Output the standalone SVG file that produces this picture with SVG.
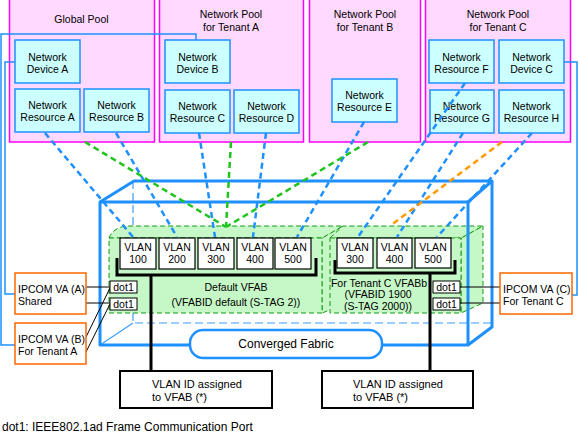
<svg xmlns="http://www.w3.org/2000/svg" width="579" height="433" viewBox="0 0 579 433">
<style>
text{font-family:"Liberation Sans",Arial,sans-serif;font-size:10.5px;fill:#000}
.c{text-anchor:middle}
.pool{fill:#ffd9ff;stroke:#ff00ff;stroke-width:1.5}
.node{fill:#ccffff;stroke:#1e90ff;stroke-width:1.5}
.ip{fill:#fff;stroke:#ff6600;stroke-width:1.5}
.vlan{fill:#fff;stroke:#000;stroke-width:1.2}
.dot{fill:#fff;stroke:#000;stroke-width:1}
.vf{fill:#c6f7c6;stroke:#159a15;stroke-width:1;stroke-dasharray:5,3}
.fab{fill:none;stroke:#1e90ff;stroke-width:3;stroke-linejoin:round}
.hid{fill:none;stroke:#3a9cff;stroke-width:1.2;stroke-dasharray:8,4}
.bl{stroke:#1e90ff;stroke-width:2.5;stroke-dasharray:6,4;fill:none}
.gr{stroke:#1fc41f;stroke-width:2.5;stroke-dasharray:6,4;fill:none}
.or{stroke:#ff9900;stroke-width:2.5;stroke-dasharray:6,4;fill:none}
.wire{fill:none;stroke:#1e90ff;stroke-width:1.5}
.blk{stroke:#000;stroke-width:1;fill:none}
.br{stroke:#000;stroke-width:3;fill:none}
.idb{fill:#fff;stroke:#000;stroke-width:2}
</style>

<g id="pool-global"><rect class="pool" x="9.5" y="-1" width="145" height="143"/><text class="c" x="81.5" y="23">Global Pool</text></g>
<g id="pool-a"><rect class="pool" x="159.5" y="-1" width="144" height="143"/><text class="c" x="231" y="18">Network Pool</text><text class="c" x="231" y="31">for Tenant A</text></g>
<g id="pool-b"><rect class="pool" x="309.5" y="-1" width="111" height="143"/><text class="c" x="365" y="18">Network Pool</text><text class="c" x="365" y="31">for Tenant B</text></g>
<g id="pool-c"><rect class="pool" x="425.5" y="-1" width="145" height="143"/><text class="c" x="498" y="18">Network Pool</text><text class="c" x="498" y="31">for Tenant C</text></g>

<g id="dev-a"><rect class="node" x="15" y="40" width="65" height="43"/><text class="c" x="47.5" y="61">Network</text><text class="c" x="47.5" y="73">Device A</text></g>
<g id="res-a"><rect class="node" x="15" y="89" width="65" height="43"/><text class="c" x="47.5" y="109">Network</text><text class="c" x="47.5" y="121">Resource A</text></g>
<g id="res-b"><rect class="node" x="84" y="89" width="65" height="43"/><text class="c" x="116.5" y="109">Network</text><text class="c" x="116.5" y="121">Resource B</text></g>
<g id="dev-b"><rect class="node" x="165" y="40" width="65" height="43"/><text class="c" x="197.5" y="61">Network</text><text class="c" x="197.5" y="73">Device B</text></g>
<g id="res-c"><rect class="node" x="165" y="90" width="65" height="43"/><text class="c" x="197.5" y="110">Network</text><text class="c" x="197.5" y="122">Resource C</text></g>
<g id="res-d"><rect class="node" x="234" y="90" width="65" height="43"/><text class="c" x="266.5" y="110">Network</text><text class="c" x="266.5" y="122">Resource D</text></g>
<g id="res-e"><rect class="node" x="332" y="79" width="65" height="43"/><text class="c" x="364.5" y="99">Network</text><text class="c" x="364.5" y="111">Resource E</text></g>
<g id="res-f"><rect class="node" x="429" y="40" width="65" height="43"/><text class="c" x="461.5" y="61">Network</text><text class="c" x="461.5" y="73">Resource F</text></g>
<g id="dev-c"><rect class="node" x="499" y="40" width="65" height="43"/><text class="c" x="531.5" y="61">Network</text><text class="c" x="531.5" y="73">Device C</text></g>
<g id="res-g"><rect class="node" x="430" y="90" width="64" height="43"/><text class="c" x="462" y="110">Network</text><text class="c" x="462" y="122">Resource G</text></g>
<g id="res-h"><rect class="node" x="499" y="90" width="65" height="43"/><text class="c" x="531.5" y="110">Network</text><text class="c" x="531.5" y="122">Resource H</text></g>

<g id="fabric">
<path class="hid" d="M133,181 L133,323 L492,323"/>
<path d="M133,323 L100,345" fill="none" stroke="#3a9cff" stroke-width="1.2"/>
</g>

<g id="vfab-default">
<path class="vf" d="M322,238 L343,226 L343,305 L322,313 Z"/>
<path class="vf" d="M109,238 Q112,229 125,226 L343,226 L322,238 Z"/>
<rect class="vf" x="109" y="238" width="213" height="75"/>
</g>
<g id="vfab-c">
<path class="vf" d="M461,238 L483,226 L483,303 L461,313 Z"/>
<path class="vf" d="M330,238 L343,226 L483,226 L461,238 Z"/>
<rect class="vf" x="330" y="238" width="131" height="75"/>
</g>

<g id="fabric-front">
<path class="fab" d="M100,345 L100,202 L468,202 L468,345 Z"/>
<path class="fab" d="M100,202 L134,181 L492,181 L468,202"/>
<path class="fab" d="M492,181 L492,327 L468,345"/>
</g>

<g id="vlans-default">
<rect class="vlan" x="120" y="238" width="36" height="31"/><text class="c" x="138" y="251">VLAN</text><text class="c" x="138" y="263">100</text>
<rect class="vlan" x="159" y="238" width="36" height="31"/><text class="c" x="177" y="251">VLAN</text><text class="c" x="177" y="263">200</text>
<rect class="vlan" x="198" y="238" width="36" height="31"/><text class="c" x="216" y="251">VLAN</text><text class="c" x="216" y="263">300</text>
<rect class="vlan" x="237" y="238" width="36" height="31"/><text class="c" x="255" y="251">VLAN</text><text class="c" x="255" y="263">400</text>
<rect class="vlan" x="275" y="238" width="36" height="31"/><text class="c" x="293" y="251">VLAN</text><text class="c" x="293" y="263">500</text>
<path class="br" d="M117,258 L117,275 L316,275 L316,258"/>
<text class="c" x="236" y="291">Default VFAB</text>
<text class="c" x="236" y="306">(VFABID default (S-TAG 2))</text>
</g>
<g id="vlans-c">
<rect class="vlan" x="337" y="238" width="36" height="30"/><text class="c" x="355" y="251">VLAN</text><text class="c" x="355" y="263">300</text>
<rect class="vlan" x="377" y="238" width="35" height="30"/><text class="c" x="394.5" y="251">VLAN</text><text class="c" x="394.5" y="263">400</text>
<rect class="vlan" x="415" y="238" width="36" height="30"/><text class="c" x="433" y="251">VLAN</text><text class="c" x="433" y="263">500</text>
<path class="br" d="M335,260 L335,273 L455,273 L455,260"/>
<text class="c" x="379" y="287">For Tenant C VFABb</text>
<text class="c" x="378" y="298">(VFABID 1900</text>
<text class="c" x="378" y="310">(S-TAG 2000))</text>
</g>

<g id="connectors">
<path class="bl" d="M45,133 L133,237"/>
<path class="bl" d="M116,133 L177,237"/>
<path class="bl" d="M199,133 L215,237"/>
<path class="bl" d="M266,133 L253,237"/>
<path class="bl" d="M364,122 L297,237"/>
<path class="bl" d="M465,83 L358,237"/>
<path class="bl" d="M463,133 L397,237"/>
<path class="bl" d="M532,133 L437,237"/>
<path class="or" d="M502,142 L390,226"/>
<path class="gr" d="M85,142 L226,227"/>
<path class="gr" d="M231,142 L226,227"/>
<path class="gr" d="M368,142 L226,227"/>
<path class="wire" d="M15,62 L5,62 L5,294 L15,294"/>
<path class="wire" d="M196,40 L196,34 L1,34 L1,345 L15,345"/>
<path class="wire" d="M564,62 L577,62 L577,295 L572,295"/>
<path class="blk" d="M86,287 L110,287"/>
<path class="blk" d="M86,303 L110,303"/>
<path class="blk" d="M86,337 L110,288"/>
<path class="blk" d="M86,352 L110,304"/>
<path class="blk" d="M460,287 L500,287"/>
<path class="blk" d="M460,303 L500,303"/>
<path class="br" d="M151,275 L151,371"/>
<path class="br" d="M430,273 L430,371"/>
</g>

<g id="converged-fabric"><rect x="190" y="330" width="192" height="28" rx="13" fill="#fff" stroke="#1e90ff" stroke-width="2.5"/><text class="c" x="286" y="348" style="font-size:12px">Converged Fabric</text></g>

<g id="dot1-a1"><rect class="dot" x="110" y="281" width="27" height="12"/><text class="c" x="123.5" y="291">dot1</text></g>
<g id="dot1-a2"><rect class="dot" x="110" y="298" width="27" height="12"/><text class="c" x="123.5" y="308">dot1</text></g>
<g id="dot1-c1"><rect class="dot" x="433" y="281" width="27" height="12"/><text class="c" x="446.5" y="291">dot1</text></g>
<g id="dot1-c2"><rect class="dot" x="433" y="298" width="27" height="12"/><text class="c" x="446.5" y="308">dot1</text></g>

<g id="ipcom-a"><rect class="ip" x="15" y="273" width="71" height="41"/><text x="18" y="293">IPCOM VA (A)</text><text x="18" y="305">Shared</text></g>
<g id="ipcom-b"><rect class="ip" x="15" y="323" width="71" height="41"/><text x="18" y="343">IPCOM VA (B)</text><text x="18" y="355">For Tenant A</text></g>
<g id="ipcom-c"><rect class="ip" x="500" y="273" width="72" height="41"/><text x="503" y="293">IPCOM VA (C)</text><text x="503" y="305">For Tenant C</text></g>

<g id="vlanid-1"><rect class="idb" x="120" y="371" width="152" height="37"/><text x="152" y="388" style="font-size:11px">VLAN ID assigned</text><text x="152" y="401" style="font-size:11px">to VFAB (*)</text></g>
<g id="vlanid-2"><rect class="idb" x="322" y="371" width="151" height="37"/><text x="353" y="388" style="font-size:11px">VLAN ID assigned</text><text x="353" y="401" style="font-size:11px">to VFAB (*)</text></g>

<text x="2" y="431" style="font-size:12px">dot1: IEEE802.1ad Frame Communication Port</text>
</svg>
